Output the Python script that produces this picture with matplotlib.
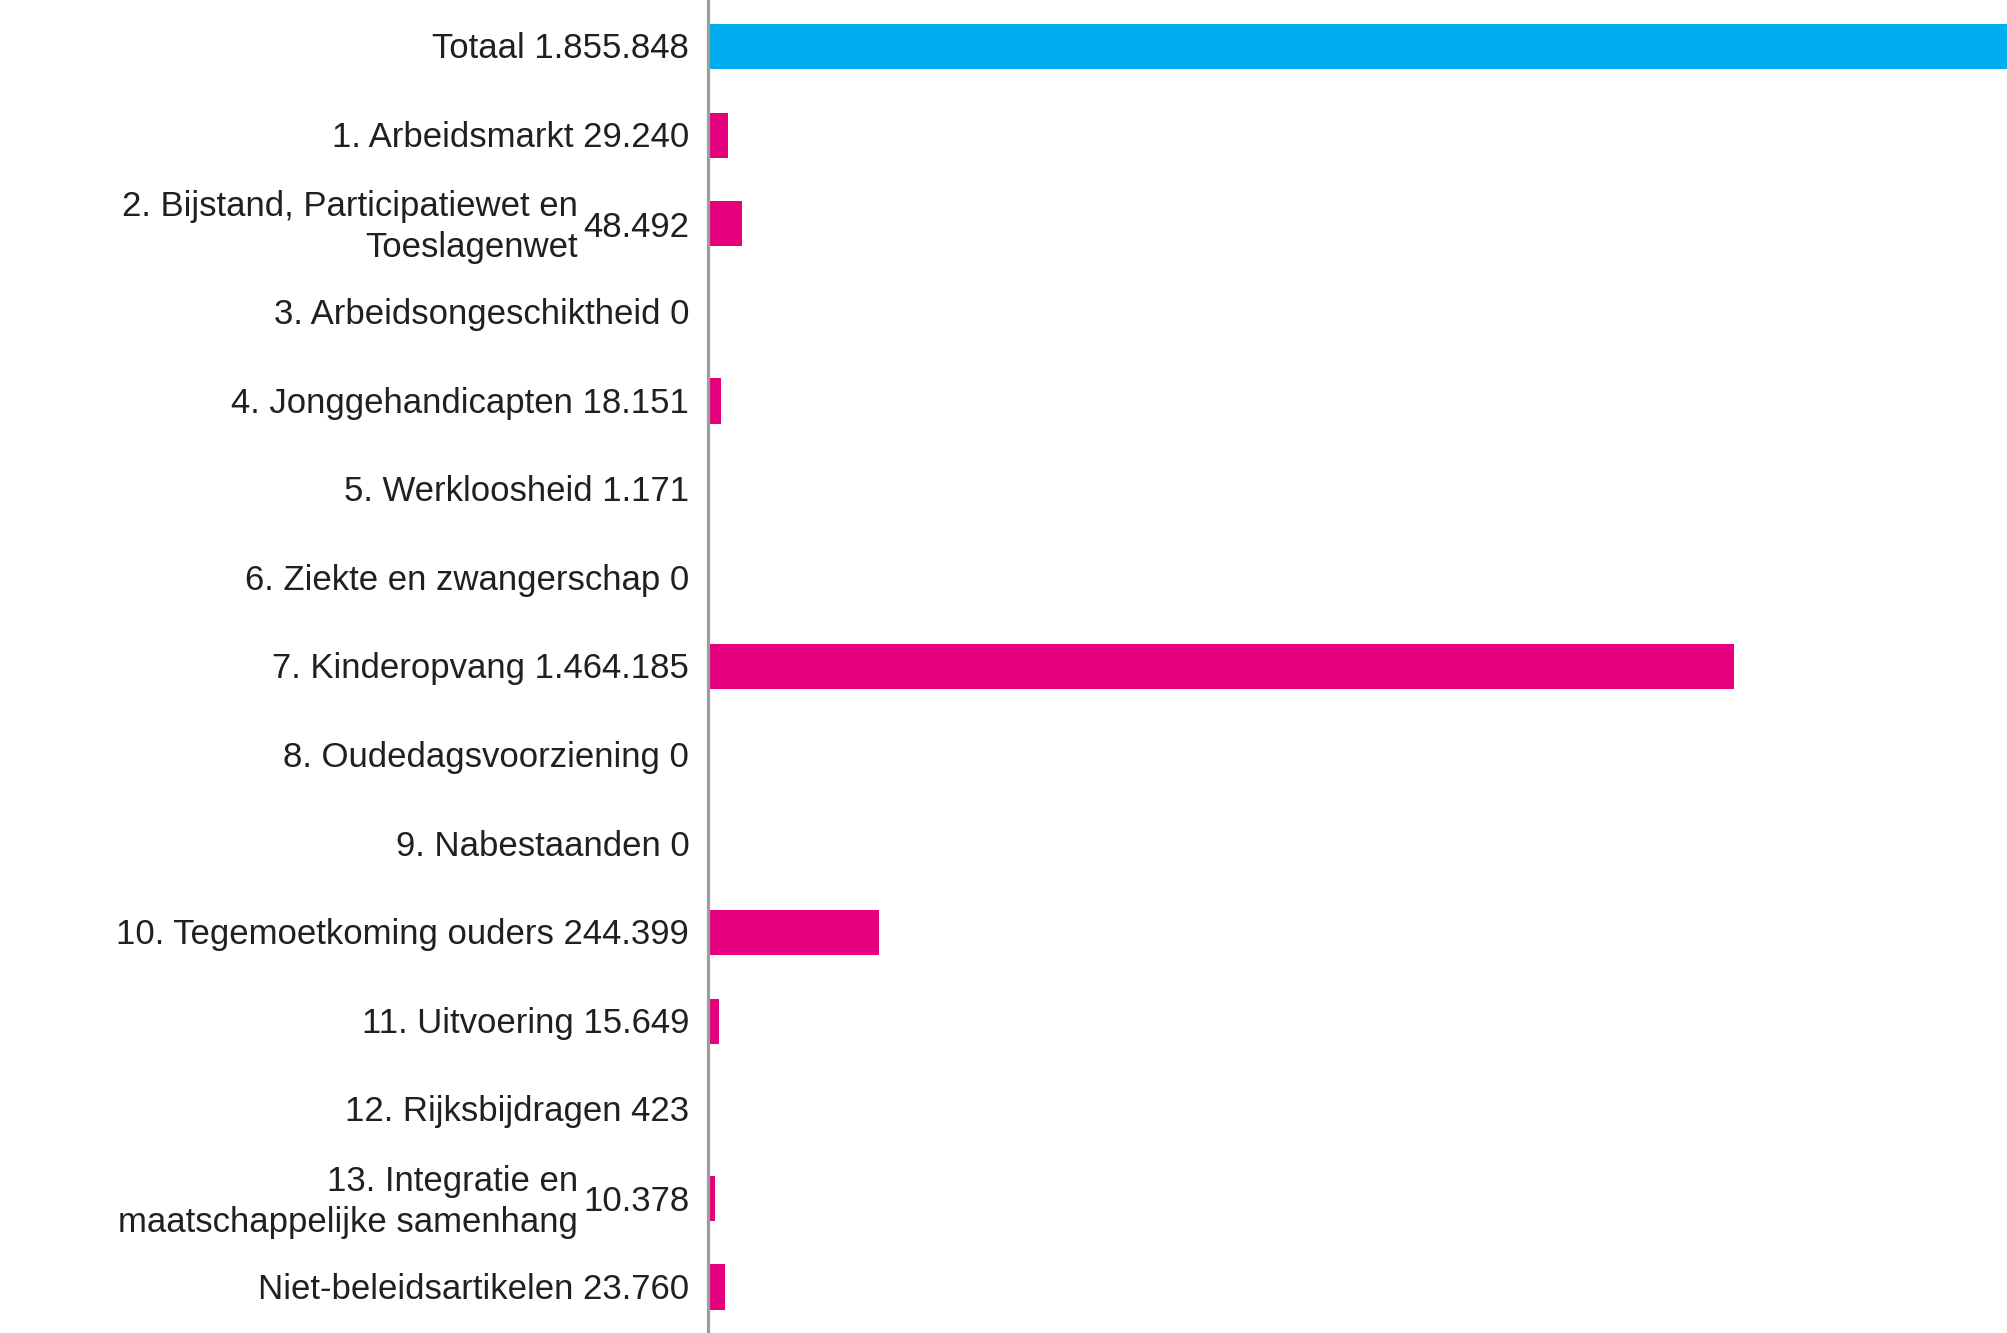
import matplotlib
matplotlib.use("Agg")
import matplotlib.pyplot as plt
import matplotlib.transforms as mtransforms

categories = [
    "Totaal",
    "1. Arbeidsmarkt",
    "2. Bijstand, Participatiewet en\nToeslagenwet",
    "3. Arbeidsongeschiktheid",
    "4. Jonggehandicapten",
    "5. Werkloosheid",
    "6. Ziekte en zwangerschap",
    "7. Kinderopvang",
    "8. Oudedagsvoorziening",
    "9. Nabestaanden",
    "10. Tegemoetkoming ouders",
    "11. Uitvoering",
    "12. Rijksbijdragen",
    "13. Integratie en\nmaatschappelijke samenhang",
    "Niet-beleidsartikelen",
]
values = [1855848, 29240, 48492, 0, 18151, 1171, 0, 1464185, 0, 0,
          244399, 15649, 423, 10378, 23760]

BLUE = "#00aeef"
PINK = "#e5007d"
TEXT = "#231f20"
colors = [BLUE] + [PINK] * (len(values) - 1)

def fmt(v):
    return f"{v:,}".replace(",", ".")

fig = plt.figure(figsize=(20.08, 13.33), dpi=100)
ax = fig.add_axes([708 / 2008, 0, 1 - 708 / 2008, 1])

y = list(range(len(categories)))
ax.barh(y, values, height=0.51, color=colors, linewidth=0)
ax.set_xlim(0, max(values))
ax.set_ylim(len(categories) - 1 + 0.52, -0.525)

for s in ["top", "right", "bottom"]:
    ax.spines[s].set_visible(False)
ax.spines["left"].set_color("#9d9d9c")
ax.spines["left"].set_linewidth(2.3)
ax.set_xticks([])
ax.set_yticks([])

trans = mtransforms.blended_transform_factory(ax.transAxes, ax.transData)
fs = 25
font = "Liberation Sans"
for i, (cat, v) in enumerate(zip(categories, values)):
    if "\n" in cat:
        ax.annotate(fmt(v), xy=(0, i), xycoords=trans, xytext=(-13.5, -2.5),
                    textcoords="offset points", ha="right", va="center",
                    fontsize=fs, color=TEXT, family=font)
        ax.annotate(cat, xy=(0, i), xycoords=trans, xytext=(-93.5, -2.5),
                    textcoords="offset points", ha="right", va="center",
                    fontsize=fs, color=TEXT, family=font, linespacing=1.3,
                    multialignment="right")
    else:
        ax.annotate(f"{cat} {fmt(v)}", xy=(0, i), xycoords=trans,
                    xytext=(-13.5, -1.5), textcoords="offset points",
                    ha="right", va="center", fontsize=fs, color=TEXT,
                    family=font)

fig.savefig("out.png", dpi=100)
